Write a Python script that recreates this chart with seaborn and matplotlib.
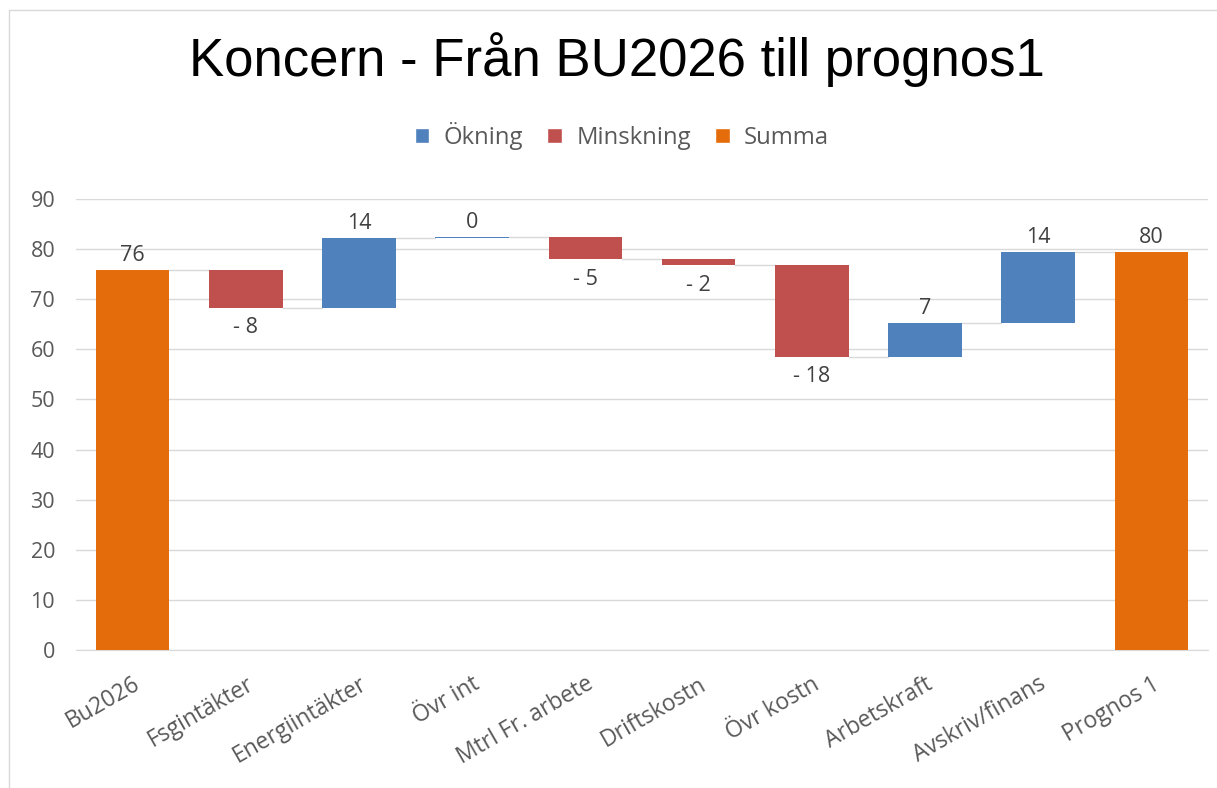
import matplotlib
matplotlib.use("Agg")
import matplotlib.pyplot as plt
from matplotlib.patches import Patch
from matplotlib.lines import Line2D
import pandas as pd
import seaborn as sns

categories = ["Bu2026", "Fsgintäkter", "Energiintäkter", "Övr int", "Mtrl Fr. arbete",
              "Driftskostn", "Övr kostn", "Arbetskraft", "Avskriv/finans", "Prognos 1"]
steps = [75.8, -7.5, 13.9, 0.25, -4.4, -1.3, -18.2, 6.7, 14.2, 79.4]
kinds = ["Summa", "Minskning", "Ökning", "Ökning", "Minskning",
         "Minskning", "Minskning", "Ökning", "Ökning", "Summa"]
labels = ["76", "- 8", "14", "0", "- 5", "- 2", "- 18", "7", "14", "80"]
yticks = [0, 10, 20, 30, 40, 50, 60, 70, 80, 90]

colors = {"Ökning": "#4F81BD", "Minskning": "#C0504D", "Summa": "#E46C0A"}
text_col = "#595959"
grid_col = "#D9D9D9"

# cumulative waterfall
bottoms, heights, levels = [], [], []
level = 0
for v, k in zip(steps, kinds):
    if k == "Summa":
        bottoms.append(0)
        heights.append(v)
        level = v
    else:
        bottoms.append(min(level, level + v))
        heights.append(abs(v))
        level = level + v
    levels.append(level)

df = pd.DataFrame({"cat": categories, "height": heights, "bottom": bottoms, "kind": kinds})

sns.set_style("white")
plt.rcParams["font.family"] = ["Open Sans", "DejaVu Sans"]

fig = plt.figure(figsize=(12.17, 7.88), dpi=100)
ax = fig.add_axes([76 / 1217, 1 - 650 / 788, 1132 / 1217, 451 / 788])

w = 0.65
sns.barplot(data=df, x="cat", y="height", bottom=df["bottom"], color=colors["Summa"],
            width=w, errorbar=None, ax=ax, zorder=3, saturation=1)
for patch, k in zip(ax.patches, kinds):
    patch.set_facecolor(colors[k])
    patch.set_edgecolor("none")

# connectors
for i in range(len(categories) - 1):
    ax.plot([i + w / 2, i + 1 - w / 2], [levels[i], levels[i]], color=grid_col, lw=1, zorder=2)

# data labels
for i, (b, h, k, t) in enumerate(zip(bottoms, heights, kinds, labels)):
    if k == "Minskning":
        ax.annotate(t, (i, b), xytext=(0, -7), textcoords="offset points",
                    ha="center", va="top", fontsize=15.5, color="#404040")
    else:
        ax.annotate(t, (i, b + h), xytext=(0, 3), textcoords="offset points",
                    ha="center", va="bottom", fontsize=15.5, color="#404040")

ax.set_ylim(0, 90)
ax.set_xlim(-0.5, len(categories) - 0.5)
ax.set_yticks(yticks)
ax.yaxis.grid(True, color=grid_col, lw=1, zorder=0)
ax.set_axisbelow(True)
for s in ["top", "right", "left"]:
    ax.spines[s].set_visible(False)
ax.spines["bottom"].set_color(grid_col)
ax.set_xlabel("")
ax.set_ylabel("")
ax.tick_params(axis="y", length=0, pad=15, labelsize=15.5, labelcolor=text_col)
ax.tick_params(axis="x", length=0, pad=16, labelsize=16.5, labelcolor=text_col)
plt.setp(ax.get_xticklabels(), rotation=30, ha="right", rotation_mode="anchor")

fig.text(0.507, 1 - 60 / 788, "Koncern - Från BU2026 till prognos1", ha="center", va="center",
         fontsize=38, family="Liberation Sans", color="black")

handles = [Patch(facecolor=colors[k], label=k) for k in ["Ökning", "Minskning", "Summa"]]
fig.legend(handles=handles, loc="center", bbox_to_anchor=(0.511, 1 - 136 / 788), ncol=3,
           frameon=False, fontsize=17.2, handlelength=0.62, handleheight=0.62,
           columnspacing=1.0, handletextpad=0.6, labelcolor=text_col)

# chart frame
fig.add_artist(Line2D([9 / 1217, 9 / 1217], [0, 1 - 10 / 788], transform=fig.transFigure,
                      color=grid_col, lw=1))
fig.add_artist(Line2D([9 / 1217, 1], [1 - 10 / 788, 1 - 10 / 788], transform=fig.transFigure,
                      color=grid_col, lw=1))

fig.savefig("out.png", dpi=100)
